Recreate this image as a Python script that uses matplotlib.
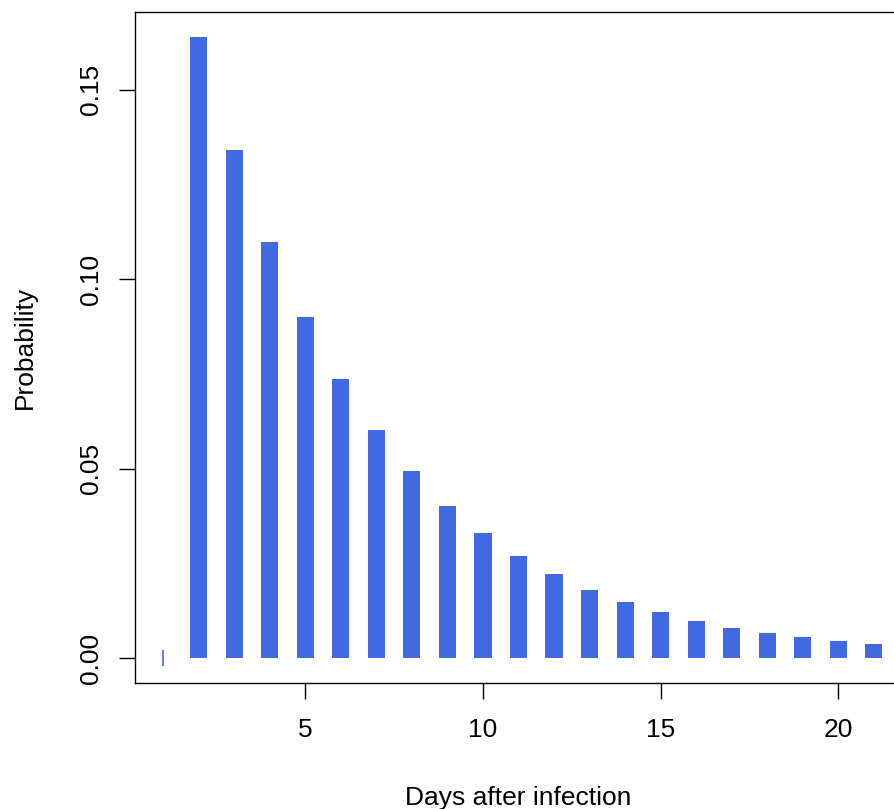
import matplotlib.pyplot as plt
import numpy as np

plt.rcParams['font.family'] = ['Liberation Sans', 'DejaVu Sans']

# daily probability of onset after infection
days = np.arange(1, 22)
probs = np.array([0.0, 0.1640, 0.1342, 0.1099, 0.0901, 0.0737, 0.0602, 0.0494,
                  0.0401, 0.0330, 0.0269, 0.0222, 0.0180, 0.0148, 0.0121,
                  0.0098, 0.0079, 0.0066, 0.0055, 0.0045, 0.0037])
xticks = [5, 10, 15, 20]
yticks = [0.00, 0.05, 0.10, 0.15]

bar_color = '#4169E1'
fs = 19

fig = plt.figure(figsize=(8.94, 8.09), dpi=100)
W, H = 894, 809
ax = fig.add_axes([135 / W, 1 - 683 / H, (902 - 135) / W, (683 - 12) / H])

nz = probs > 0
ax.bar(days[nz], probs[nz], width=0.48, color=bar_color, linewidth=0)
# zero-probability day drawn as a thin tick
ax.plot(days[~nz], probs[~nz], linestyle='none', marker='|', markersize=12,
        markeredgewidth=1.2, color=bar_color)

# R-style 4% range extension
xr = days.max() - days.min()
ax.set_xlim(days.min() - 0.04 * xr, days.max() + 0.04 * xr)
yr = probs.max() - probs.min()
ax.set_ylim(probs.min() - 0.04 * yr, probs.max() + 0.04 * yr)

ax.set_xticks(xticks)
ax.set_xticklabels([str(t) for t in xticks])
ax.set_yticks(yticks)
ax.set_yticklabels([f'{t:.2f}' for t in yticks], rotation=90, va='center')

ax.tick_params(axis='both', direction='out', length=11.5, width=1.0,
               labelsize=fs, color='black')
ax.tick_params(axis='x', pad=13.5)
ax.tick_params(axis='y', pad=11.5)
for s in ax.spines.values():
    s.set_linewidth(1.0)

ax.set_xlabel('Days after infection', fontsize=fs, va='center')
ax.xaxis.set_label_coords(0.5, -0.171)
ax.set_ylabel('Probability', fontsize=fs, va='center')
ax.yaxis.set_label_coords(-0.1438, 0.5)

fig.savefig('out.png', dpi=100)
